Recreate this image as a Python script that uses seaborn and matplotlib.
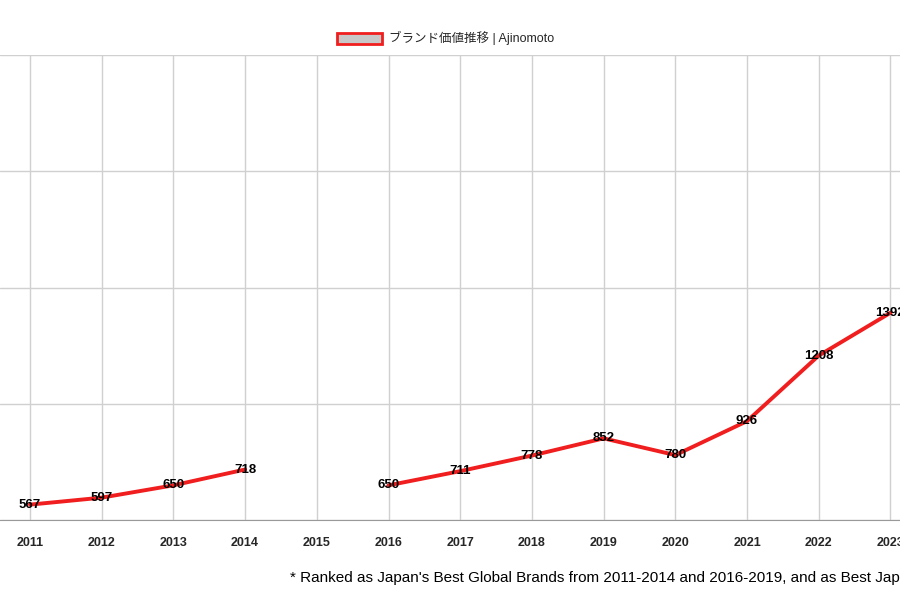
import numpy as np
import pandas as pd
import matplotlib
matplotlib.use("Agg")
import matplotlib.pyplot as plt
import seaborn as sns
from matplotlib.patches import Patch

# Brand value by year (2015 missing)
years = [2011, 2012, 2013, 2014, 2015, 2016, 2017, 2018, 2019, 2020, 2021, 2022, 2023]
values = [567, 597, 650, 718, np.nan, 650, 711, 778, 852, 780, 926, 1208, 1392]
segments = [0, 0, 0, 0, 0, 1, 1, 1, 1, 1, 1, 1, 1]
y_ticks = [500, 1000, 1500, 2000, 2500]

legend_label = "ブランド価値推移 | Ajinomoto"
footnote = ("* Ranked as Japan's Best Global Brands from 2011-2014 and 2016-2019, "
            "and as Best Japan Brands from 2020-2023")

df = pd.DataFrame({"year": years, "value": values, "segment": segments}).dropna()

sns.set_style("white")
plt.rcParams["font.family"] = ["Liberation Sans", "Noto Sans CJK JP", "DejaVu Sans"]

col_line = "#f01e1e"

fig = plt.figure(figsize=(9, 6), dpi=100)
ax = fig.add_axes([0, 0.133, 1, 0.775])

sns.lineplot(data=df, x="year", y="value", units="segment", estimator=None,
             color=col_line, linewidth=2.8, ax=ax, legend=False)

# Value labels on points
for _, r in df.iterrows():
    ax.text(r["year"], r["value"], f"{int(r['value'])}", ha="center", va="center",
            fontsize=9.5, color="black", fontweight="bold", clip_on=False)

# Axes / grid
ax.set_xlim(2011 - 30 / 71.7, 2011 + 870 / 71.7)
ax.set_ylim(500, 2500)
ax.set_xticks(years)
ax.set_xticklabels([str(y) for y in years], fontsize=9, fontweight="bold")
ax.set_yticks(y_ticks)
ax.set_yticklabels([])
ax.tick_params(length=0, pad=12)
ax.grid(True, color="#d0d0d0", linewidth=1)
ax.spines[["top", "right", "left"]].set_visible(False)
ax.spines["bottom"].set_color("#999999")
ax.set_xlabel("")
ax.set_ylabel("")

# Legend
handle = Patch(facecolor="#c8c8c8", edgecolor=col_line, linewidth=2, label=legend_label)
fig.legend(handles=[handle], loc="center", bbox_to_anchor=(0.495, 0.936),
           frameon=False, fontsize=9, handlelength=3.6, handleheight=1.0,
           handletextpad=0.5)

# Footnote
fig.text(290 / 900, 1 - 578 / 600, footnote, ha="left", va="center",
         fontsize=11, color="black")

fig.savefig("out.png", dpi=100)
